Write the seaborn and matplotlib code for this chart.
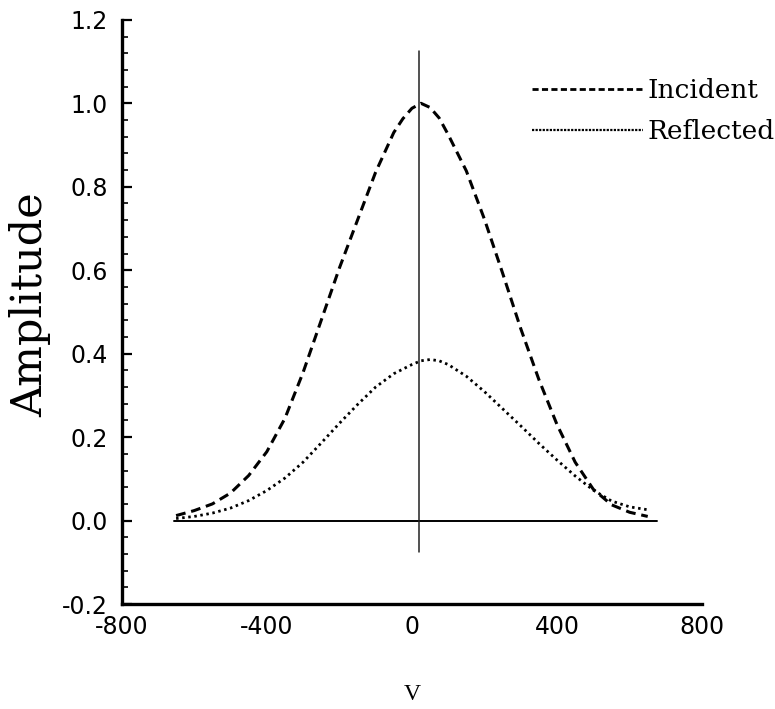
import numpy as np
import pandas as pd
import seaborn as sns
import matplotlib
matplotlib.use("Agg")
import matplotlib.pyplot as plt
from matplotlib.ticker import FormatStrFormatter, MultipleLocator
from matplotlib.lines import Line2D

# Velocity samples and pulse amplitudes
v_incident = [-650, -600, -550, -500, -450, -400, -350, -300, -250, -200, -150,
              -100, -50, -25, 0, 25, 50, 75, 100, 150, 200, 250, 300, 350, 400,
              450, 500, 550, 600, 650]
amp_incident = [0.012, 0.024, 0.040, 0.066, 0.108, 0.165, 0.245, 0.355, 0.480,
                0.605, 0.720, 0.835, 0.930, 0.963, 0.988, 1.000, 0.990, 0.965,
                0.925, 0.838, 0.722, 0.593, 0.460, 0.338, 0.230, 0.140, 0.075,
                0.038, 0.020, 0.010]

v_reflected = [-650, -600, -550, -500, -450, -400, -350, -300, -250, -200, -150,
               -100, -50, 0, 25, 50, 75, 100, 150, 200, 250, 300, 350, 400, 450,
               500, 550, 600, 650]
amp_reflected = [0.005, 0.010, 0.018, 0.030, 0.048, 0.072, 0.102, 0.140, 0.186,
                 0.233, 0.278, 0.320, 0.352, 0.374, 0.383, 0.386, 0.383, 0.374,
                 0.346, 0.309, 0.268, 0.227, 0.185, 0.145, 0.107, 0.073, 0.047,
                 0.033, 0.026]

series_names = ["Incident", "Reflected"]
x_ticks = [-800, -400, 0, 400, 800]
y_ticks = [-0.2, 0.0, 0.2, 0.4, 0.6, 0.8, 1.0, 1.2]

# reference lines: baseline and vertical marker
baseline_span = [-655, 675]
marker_v = 20
marker_span = [-0.075, 1.125]

sns.set_style("white")
plt.rcParams["font.family"] = ["DejaVu Sans"]
plt.rcParams["axes.unicode_minus"] = False
for key in ["text.color", "axes.labelcolor", "xtick.color", "ytick.color"]:
    plt.rcParams[key] = "black"

fig = plt.figure(figsize=(7.75, 7.09), dpi=100)
ax = fig.add_axes([0.157, 0.148, 0.749, 0.824])

inc = pd.DataFrame({"v": v_incident, "amp": amp_incident})
ref = pd.DataFrame({"v": v_reflected, "amp": amp_reflected})

sns.lineplot(data=inc, x="v", y="amp", ax=ax, color="black", lw=2.2,
             estimator=None, sort=False)
ax.lines[-1].set_dashes((3.2, 1.9))
sns.lineplot(data=ref, x="v", y="amp", ax=ax, color="black", lw=2.0,
             estimator=None, sort=False)
ax.lines[-1].set_dashes((0.9, 1.3))

ax.plot(baseline_span, [0, 0], color="black", lw=1.4)
ax.plot([marker_v, marker_v], marker_span, color="#222222", lw=1.1)

ax.set_xlim(-800, 800)
ax.set_ylim(-0.2, 1.2)
ax.set_xticks(x_ticks)
ax.set_yticks(y_ticks)
ax.yaxis.set_major_formatter(FormatStrFormatter("%.1f"))
ax.yaxis.set_minor_locator(MultipleLocator(0.04))

for s in ["top", "right"]:
    ax.spines[s].set_visible(False)
for s in ["left", "bottom"]:
    ax.spines[s].set_linewidth(2.4)
    ax.spines[s].set_color("black")

ax.tick_params(axis="y", which="major", direction="in", length=7, width=1.6,
               labelsize=17, pad=10, left=True)
ax.tick_params(axis="y", which="minor", direction="in", length=4, width=1.2,
               left=True)
ax.tick_params(axis="x", which="both", length=0, labelsize=17, pad=8)

ax.set_xlabel("V", fontsize=17, family=["Liberation Serif"], labelpad=32)
ax.set_ylabel("Amplitude", fontsize=31, family=["DejaVu Serif"], va="center")
ax.yaxis.set_label_coords(-0.158, 0.512)

handles = [Line2D([], [], color="black", lw=2.0, dashes=(2.2, 1.2)),
           Line2D([], [], color="black", lw=1.6, dashes=(1.0, 0.6))]
fig.legend(handles, series_names, loc="upper right",
           bbox_to_anchor=(1.0, 0.890), frameon=False, handlelength=4.2,
           handletextpad=0.2, labelspacing=0.6, borderpad=0,
           borderaxespad=0, prop={"family": "DejaVu Serif", "size": 19})

fig.savefig("out.png", dpi=100, facecolor="white")
